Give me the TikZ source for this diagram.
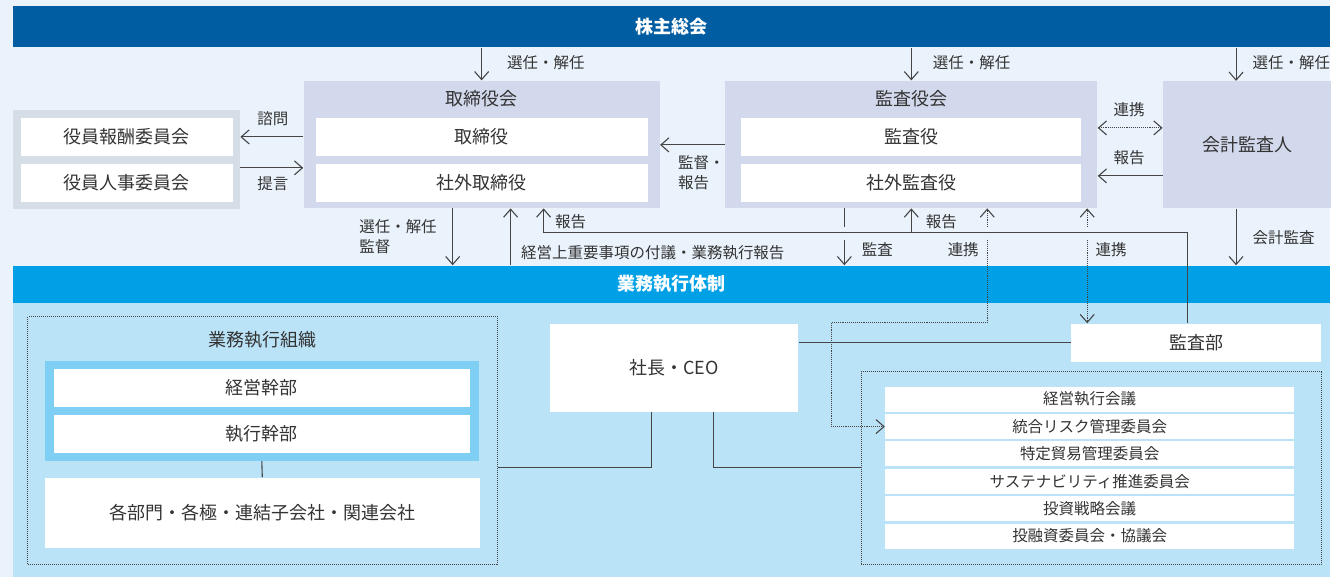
\documentclass[tikz,border=0pt]{standalone}
\usepackage{fontspec}
\setmainfont{Noto Sans CJK JP}
\usetikzlibrary{arrows.meta}
\definecolor{pagebg}{HTML}{EAF3FC}
\definecolor{gmblue}{HTML}{005DA2}
\definecolor{execblue}{HTML}{00A0E6}
\definecolor{execbg}{HTML}{BBE3F7}
\definecolor{boardbg}{HTML}{D3D9EC}
\definecolor{cmtbg}{HTML}{D5DDE6}
\definecolor{framebl}{HTML}{7FCEF3}
\definecolor{txt}{HTML}{333333}
\definecolor{ln}{HTML}{454545}
\begin{document}
\begin{tikzpicture}[x=1pt, y=-1pt, line width=1.1pt, color=ln, >={Straight Barb[length=8pt,width=14pt]},
  every node/.append style={inner sep=0pt, text=txt, font=\fontsize{18}{22}\selectfont},
  sml/.style={font=\fontsize{15.5}{20}\selectfont},
  band/.style 2 args={fill=#1, minimum width=1318pt, minimum height=#2, text=white, font=\fontsize{18}{22}\selectfont\bfseries},
  wbox/.style 2 args={fill=white, minimum width=#1, minimum height=#2},
  grp/.style n args={3}{fill=#1, minimum width=#2, minimum height=#3},
  dotbox/.style 2 args={draw=ln, densely dotted, line width=1pt, minimum width=#1, minimum height=#2}]
  \fill[pagebg] (0,0) rectangle (1331,577); \fill[execbg] (13,303) rectangle (1331,577);
  \node[band={gmblue}{41pt}] (gm) at (672,26.5) {株主総会};
  \node[band={execblue}{37pt}] (exec) at (672,284.5) {業務執行体制};

  \node[grp={boardbg}{356pt}{127pt}] (board) at (482,144.5) {}; \node (boardttl) at (482,99) {取締役会};
  \node[wbox={332pt}{38pt}] (dir) at (482,137) {取締役}; \node[wbox={332pt}{38pt}] (odir) at (482,183) {社外取締役};
  \node[grp={boardbg}{372pt}{127pt}] (audit) at (912,144.5) {}; \node (auditttl) at (912,99) {監査役会};
  \node[wbox={340pt}{38pt}] (aud) at (912,137) {監査役}; \node[wbox={340pt}{38pt}] (oaud) at (912,183) {社外監査役};
  \node[grp={boardbg}{168pt}{127pt}] (acct) at (1248,145) {会計監査人};
  \node[grp={cmtbg}{227pt}{99pt}] (cmt) at (126.5,159.5) {};
  \node[wbox={212pt}{38pt}] (cmtpay) at (127,137) {役員報酬委員会}; \node[wbox={212pt}{38pt}] (cmthr) at (127,183) {役員人事委員会};

  \draw[->] (board.west |- cmtpay) -- (cmt.east |- cmtpay); \node[sml] at (273,119) {諮問};
  \draw[->] (cmt.east |- 0,168) -- (board.west |- 0,168); \node[sml] at (273,184) {提言};
  \draw[->] (board.north |- gm.south) -- (board.north); \node[sml, anchor=west] at (507,63) {選任・解任};
  \draw[->] (audit.north |- gm.south) -- (audit.north); \node[sml, anchor=west] at (933,63) {選任・解任};
  \draw[->] (1237,0 |- gm.south) -- (1237,0 |- acct.north); \node[sml, anchor=west] at (1253,63) {選任・解任};
  \draw[->] (audit.west |- 0,145) -- (board.east |- 0,145); \node[sml, anchor=west, align=left] at (678,172.5) {監督・\\報告};
  \draw[<->, densely dotted] (audit.east |- 0,128) -- (acct.west |- 0,128); \node[sml] at (1130,110) {連携};
  \draw[->] (acct.west |- 0,176) -- (audit.east |- 0,176); \node[sml] at (1130,158) {報告};
  \draw[->] (1237,0 |- acct.south) -- (1237,0 |- exec.north); \node[sml, anchor=west] at (1253,238) {会計監査};

  \draw[->] (453,0 |- board.south) -- (453,0 |- exec.north); \node[sml, anchor=west, align=left] at (359,236.5) {選任・解任\\監督};
  \draw[->] (511,0 |- exec.north) -- (511,0 |- board.south); \node[sml, anchor=west] at (521,253) {経営上重要事項の付議・業務執行報告};
  \draw (845,0 |- audit.south) -- (845,227); \draw[->] (845,240) -- (845,0 |- exec.north); \node[sml, anchor=west] at (862,250) {監査};

  \node[dotbox={470pt}{248pt}] (org) at (263,441) {}; \node (orgttl) at (262.5,340) {業務執行組織};
  \node[grp={framebl}{434pt}{100pt}] (mgmt) at (262,411) {};
  \node[wbox={416pt}{38pt}] (exe) at (262,388) {経営幹部}; \node[wbox={416pt}{38pt}] (exo) at (262,434) {執行幹部};
  \node[wbox={435pt}{70pt}] (units) at (262.5,513) {各部門・各極・連結子会社・関連会社};
  \draw (mgmt.south) -- (units.north);
  \node[wbox={249pt}{88pt}] (ceo) at (674.5,368) {社長・CEO};
  \node[wbox={250pt}{38pt}] (auddept) at (1197,343) {監査部};
  \node[dotbox={460pt}{193pt}] (cmtes) at (1092,468.5) {};
  \foreach \t [count=\i from 0] in {経営執行会議, 統合リスク管理委員会, 特定貿易管理委員会, サステナビリティ推進委員会, 投資戦略会議, 投融資委員会・協議会}
    \node[wbox={409pt}{25pt}, sml] (cmte\i) at (1090.5,{399.5+27.4*\i}) {\t};

  \draw (org.east |- 0,468) -- (652,468) -- (652,0 |- ceo.south);
  \draw (714,0 |- ceo.south) -- (714,468) -- (cmtes.west |- 0,468);
  \draw (ceo.east |- 0,343) -- (auddept.west |- 0,343);
  \draw[->] (1188,0 |- auddept.north) -- (1188,233) -- (544,233) -- (544,0 |- board.south); \node[sml, anchor=west] at (555,222) {報告};
  \draw[->] (912,233) -- (audit.south); \node[sml, anchor=west] at (926,222) {報告};
  \draw[->, densely dotted] (988,227) -- (988,0 |- audit.south);
  \draw[->, densely dotted] (988,240) -- (988,323) -- (832,323) -- (832,0 |- cmte1.west) -- (cmte1.west); \node[sml, anchor=east] at (980,250) {連携};
  \draw[->, densely dotted] (1088,227) -- (1088,0 |- audit.south);
  \draw[->, densely dotted] (1088,240) -- (1088,0 |- auddept.north); \node[sml, anchor=west] at (1096,250) {連携};
\end{tikzpicture}
\end{document}
